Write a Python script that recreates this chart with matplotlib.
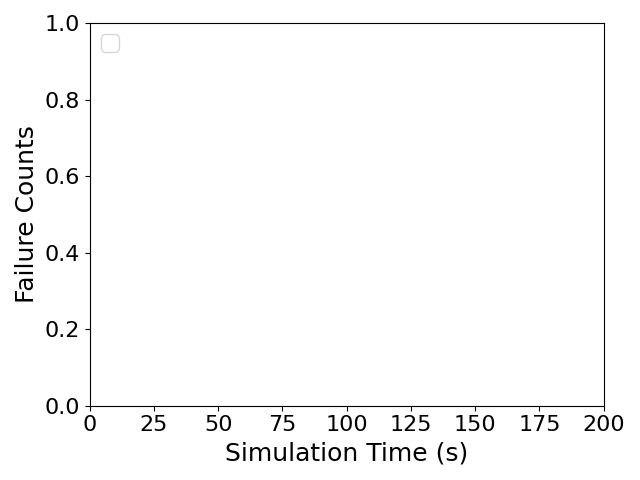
import matplotlib
matplotlib.use('Agg')
from matplotlib import pyplot as plt

# no failures were recorded in this run, so the series are empty
sim_time = []
failure_counts = []
x_ticks = [0, 25, 50, 75, 100, 125, 150, 175, 200]

fig, ax = plt.subplots(figsize=(6.4, 4.8), dpi=100)
ax.plot(sim_time, failure_counts)
ax.set_xlim(0, 200)
ax.set_ylim(0, 1)
ax.set_xticks(x_ticks)
ax.set_xlabel('Simulation Time (s)', fontsize=18)
ax.set_ylabel('Failure Counts', fontsize=18)
ax.tick_params(labelsize=16)
ax.legend(fontsize=16, loc='upper left')
plt.tight_layout()
plt.savefig('out.png')
